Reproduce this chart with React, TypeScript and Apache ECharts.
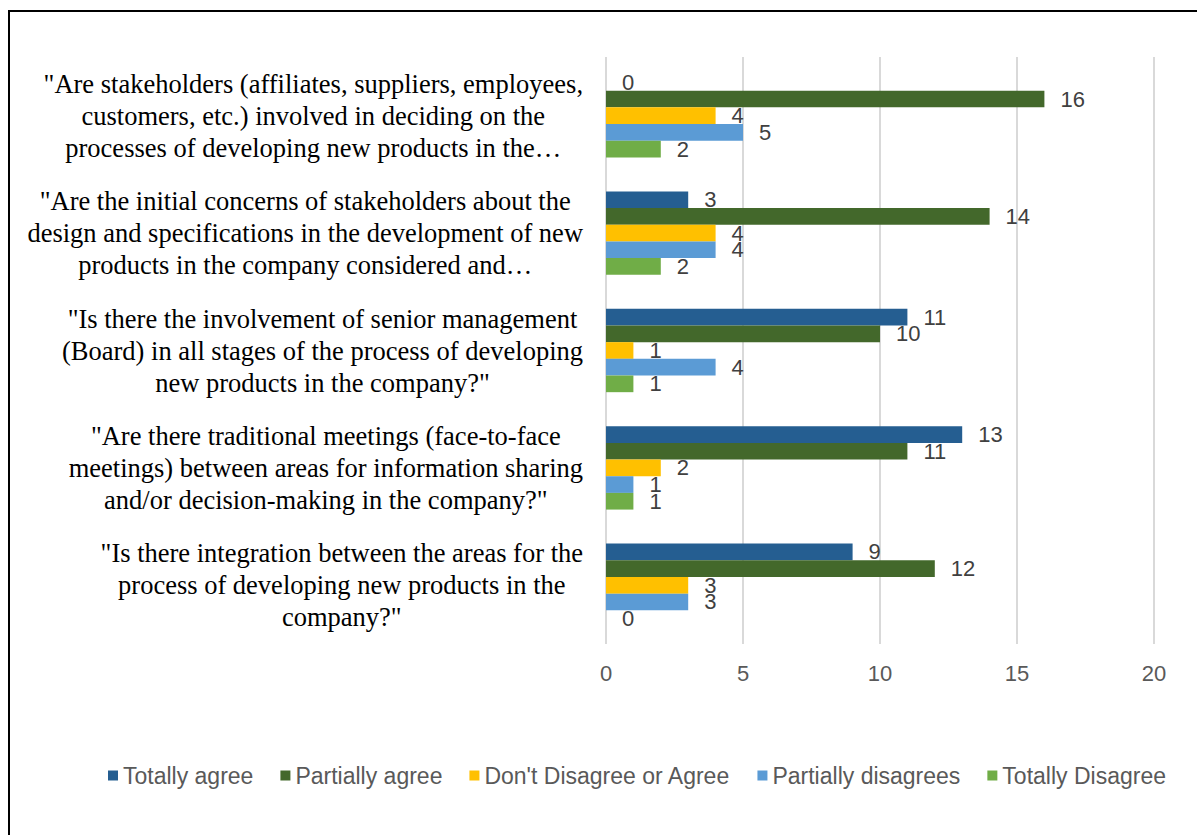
import React, { useEffect, useRef } from "react";
import * as echarts from "echarts";

const categories = [
  "\"Are stakeholders (affiliates, suppliers, employees,\ncustomers, etc.) involved in deciding on the\nprocesses of developing new products in the…",
  "\"Are the initial concerns of stakeholders about the\ndesign and specifications in the development of new\nproducts in the company considered and…",
  "\"Is there the involvement of senior management\n(Board) in all stages of the process of developing\nnew products in the company?\"",
  "\"Are there traditional meetings (face-to-face\nmeetings) between areas for information sharing\nand/or decision-making in the company?\"",
  "\"Is there integration between the areas for the\nprocess of developing new products in the\ncompany?\"",
];

const seriesNames = [
  "Totally agree",
  "Partially agree",
  "Don't Disagree or Agree",
  "Partially disagrees",
  "Totally Disagree",
];

const totallyAgree = [0, 3, 11, 13, 9];
const partiallyAgree = [16, 14, 10, 11, 12];
const dontDisagree = [4, 4, 1, 2, 3];
const partiallyDisagrees = [5, 4, 4, 1, 3];
const totallyDisagree = [2, 2, 1, 1, 0];

const xTicks = { min: 0, max: 20, interval: 5 };

const colors = ["#255E91", "#43682B", "#FFC000", "#5B9BD5", "#70AD47"];

const sans = "'Liberation Sans', Arial, sans-serif";
const serif = "'Liberation Serif', 'Times New Roman', serif";

export default function App() {
  const ref = useRef<HTMLDivElement>(null);
  useEffect(() => {
    if (!ref.current) return;
    const chart = echarts.init(ref.current, null, { renderer: "svg" });
    const values = [totallyAgree, partiallyAgree, dontDisagree, partiallyDisagrees, totallyDisagree];
    chart.setOption({
      animation: false,
      backgroundColor: "#ffffff",
      graphic: [
        {
          type: "polyline",
          shape: { points: [[9, 835], [9, 11], [1197, 11]] },
          style: { stroke: "#000", lineWidth: 2, fill: null },
        },
      ],
      grid: { left: 606, right: 43, top: 57, bottom: 191 },
      legend: {
        left: 103,
        top: 759,
        itemWidth: 10,
        itemHeight: 10,
        itemGap: 27,
        icon: "rect",
        textStyle: { fontFamily: sans, fontSize: 23, color: "#595959" },
        data: seriesNames,
      },
      xAxis: {
        type: "value",
        min: xTicks.min,
        max: xTicks.max,
        interval: xTicks.interval,
        axisLine: { show: false },
        axisTick: { show: false },
        splitLine: { lineStyle: { color: "#d9d9d9", width: 2 } },
        axisLabel: { fontFamily: sans, fontSize: 22, color: "#595959", margin: 18 },
      },
      yAxis: {
        type: "category",
        inverse: true,
        data: categories,
        axisLine: { show: false },
        axisTick: { show: false },
        axisLabel: {
          margin: 23,
          align: "right",
          formatter: (v: string) =>
            v
              .split("\n")
              .map((l) => `{c|${l}}`)
              .join("\n"),
          rich: {
            c: {
              align: "center",
              fontFamily: serif,
              fontSize: 26.5,
              lineHeight: 32,
              color: "#000",
            },
          },
        },
      },
      series: seriesNames.map((name, i) => ({
        name,
        type: "bar",
        data: values[i],
        barGap: "0%",
        barCategoryGap: "29%",
        itemStyle: { color: colors[i] },
        label: {
          show: true,
          position: "right",
          distance: 16,
          fontFamily: sans,
          fontSize: 22,
          color: "#404040",
        },
      })),
    });
    return () => chart.dispose();
  }, []);
  return (
    <div
      ref={ref}
      style={{ position: "fixed", left: 0, top: 0, width: 1197, height: 835 }}
    />
  );
}
